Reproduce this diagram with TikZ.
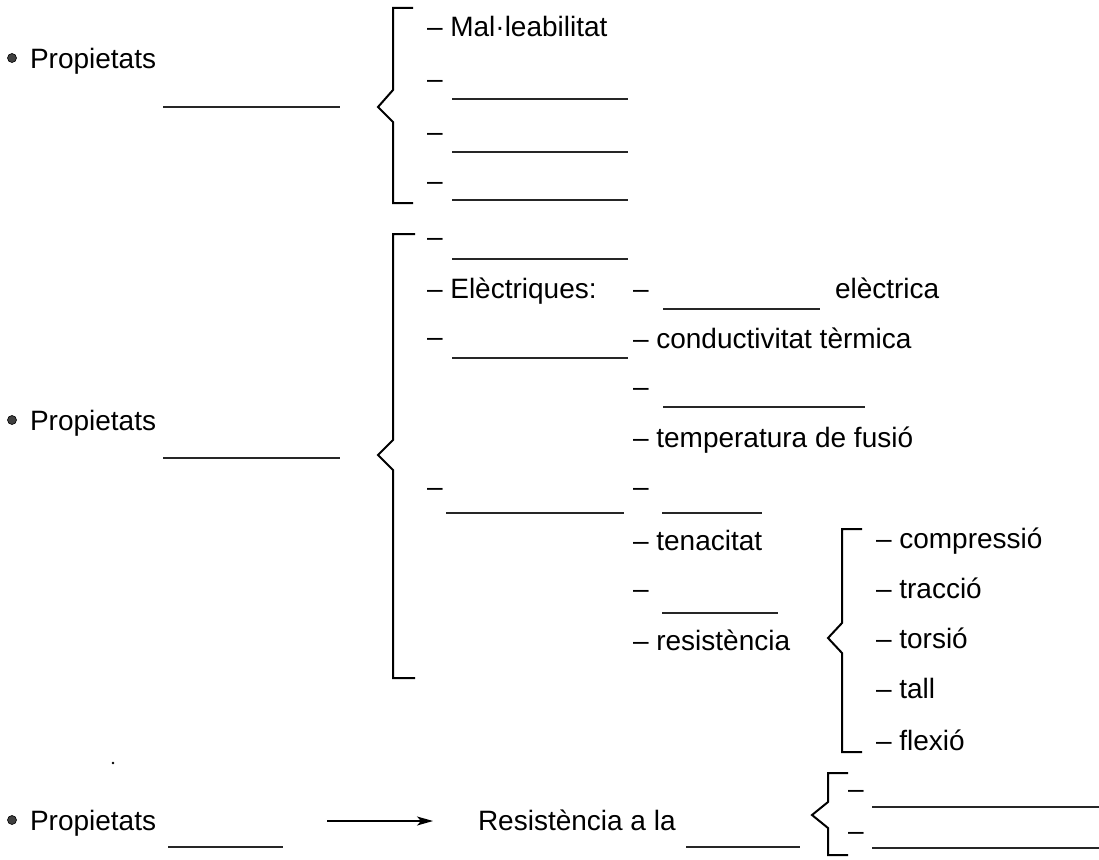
\documentclass[tikz,border=0pt]{standalone}
\usepackage{fontspec}
\setmainfont{Liberation Sans}
\usetikzlibrary{arrows.meta}
\begin{document}
\begin{tikzpicture}[x=1pt,y=-1pt,
  lbl/.style={anchor=base west, inner sep=0pt, outer sep=0pt, font=\fontsize{28}{32}\selectfont},
  blank/.style={line width=1.1pt, draw=black!85},
  brace/.style={line width=2pt, line join=miter, line cap=butt},
  dot/.style={fill=black!75, draw=black, line width=0.6pt}]
\useasboundingbox (0,0) rectangle (1099,859);

% Section 1
\filldraw[dot] (12,58) circle (4.5);
\node[lbl] (p1) at (30,68) {Propietats};
\draw[blank] (163,107) -- (340,107);
\draw[brace] (413,8) -- (393,8) -- (393,90) -- (378,107) -- (393,122) -- (393,203) -- (413,203);
\node[lbl] (mal) at (427,37) {– Mal·leabilitat};
\node[lbl] (d11) at (427,88) {–};
\draw[blank] (452,99) -- (628,99);
\node[lbl] (d12) at (427,141) {–};
\draw[blank] (452,152) -- (628,152);
\node[lbl] (d13) at (427,190) {–};
\draw[blank] (452,200) -- (628,200);

% Section 2
\filldraw[dot] (12,420) circle (4.5);
\node[lbl] (p2) at (30,430) {Propietats};
\draw[blank] (163,458) -- (340,458);
\draw[brace] (415,234) -- (393,234) -- (393,440) -- (378,455) -- (393,470) -- (393,678) -- (415,678);
\node[lbl] (d21) at (427,246) {–};
\draw[blank] (452,259) -- (628,259);
\node[lbl] (elec) at (427,298) {– Elèctriques:};
\node[lbl] (d22) at (427,346) {–};
\draw[blank] (452,358) -- (628,358);
\node[lbl] (d23) at (427,496) {–};
\draw[blank] (446,513) -- (624,513);
% column 2
\node[lbl] (d31) at (633,298) {–};
\draw[blank] (663,309) -- (820,309);
\node[lbl] (elc) at (835,298) {elèctrica};
\node[lbl] (cond) at (633,348) {– conductivitat tèrmica};
\node[lbl] (d32) at (633,396) {–};
\draw[blank] (663,407) -- (865,407);
\node[lbl] (temp) at (633,447) {– temperatura de fusió};
\node[lbl] (d33) at (633,496) {–};
\draw[blank] (662,513) -- (762,513);
\node[lbl] (ten) at (633,550) {– tenacitat};
\node[lbl] (d34) at (633,598) {–};
\draw[blank] (662,613) -- (778,613);
\node[lbl] (res) at (633,650) {– resistència};
% brace D
\draw[brace] (862,529) -- (842,529) -- (842,623) -- (828,638) -- (842,653) -- (842,752) -- (862,752);
\node[lbl] (c1) at (876,548) {– compressió};
\node[lbl] (c2) at (876,598) {– tracció};
\node[lbl] (c3) at (876,648) {– torsió};
\node[lbl] (c4) at (876,698) {– tall};
\node[lbl] (c5) at (876,750) {– flexió};

% Section 3
\fill (113,763) circle (1.3);
\filldraw[dot] (12,820) circle (4.5);
\node[lbl] (p3) at (30,830) {Propietats};
\draw[blank] (168,847) -- (283,847);
\coordinate (a1) at (327,821);
\coordinate (a2) at (433,821);
\draw[line width=1.1pt, -{Stealth[length=16pt,width=9pt,inset=4pt]}] (a1) -- (a2);
\node[lbl] (rl) at (478,830) {Resistència a la};
\draw[blank] (686,847) -- (800,847);
\draw[brace] (848,773) -- (828,773) -- (828,802) -- (812,815) -- (828,828) -- (828,855) -- (848,855);
\node[lbl] (d41) at (848,798) {–};
\draw[blank] (872,807) -- (1099,807);
\node[lbl] (d42) at (848,840) {–};
\draw[blank] (872,848) -- (1099,848);
\end{tikzpicture}
\end{document}
